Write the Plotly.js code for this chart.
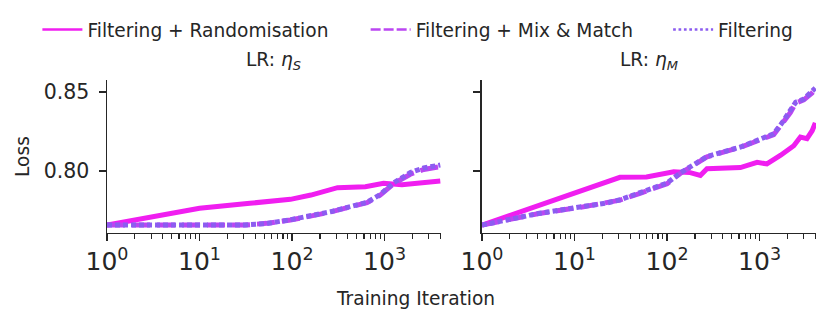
<!DOCTYPE html>
<html>
<head>
<meta charset="utf-8">
<script src="https://cdn.plot.ly/plotly-3.0.1.min.js"></script>
<style>
  body { margin: 0; padding: 0; background: #fff; }
  #chart { width: 831px; height: 325px; }
</style>
</head>
<body>
<div id="chart"></div>
<script>
// LR: eta_S panel
var sRandX = [1, 10, 35, 96, 160, 310, 620, 975, 1540, 2240, 2650, 4000];
var sRandY = [0.7658, 0.7764, 0.7796, 0.7821, 0.7848, 0.7895, 0.7901, 0.7922, 0.7913, 0.7922, 0.7932, 0.7937];
var sMixX = [1, 2, 5, 10, 31, 53, 96, 258, 646, 900, 1250, 1900, 2650, 4000];
var sMixY = [0.7658, 0.7657, 0.7657, 0.7657, 0.7658, 0.7669, 0.7690, 0.7740, 0.7800, 0.7848, 0.7920, 0.7980, 0.8010, 0.8028];
var sFiltX = [1, 2, 5, 10, 31, 53, 96, 258, 646, 900, 1250, 1900, 2650, 4000];
var sFiltY = [0.7658, 0.7657, 0.7657, 0.7658, 0.7659, 0.7668, 0.7692, 0.7742, 0.7802, 0.7852, 0.7925, 0.7990, 0.8020, 0.8038];

// LR: eta_M panel
var mRandX = [1, 31, 60, 118, 178, 229, 270, 620, 940, 1200, 1690, 2340, 2760, 3250, 3700, 4000];
var mRandY = [0.7658, 0.7960, 0.7962, 0.7996, 0.7990, 0.7972, 0.8015, 0.8022, 0.8055, 0.8045, 0.8100, 0.8160, 0.8215, 0.8205, 0.8255, 0.8305];
var mMixX = [1, 2, 4, 12.5, 22, 31, 51, 100, 139, 210, 270, 620, 940, 1420, 1750, 2150, 2450, 3000, 3700, 4000];
var mMixY = [0.7658, 0.7693, 0.7730, 0.7774, 0.7796, 0.7816, 0.7859, 0.7920, 0.7985, 0.8049, 0.8090, 0.8150, 0.8186, 0.8230, 0.8300, 0.8370, 0.8430, 0.8450, 0.8495, 0.8515];
var mFiltX = [1, 2, 4, 12.5, 22, 31, 51, 100, 139, 210, 270, 620, 940, 1420, 1750, 2150, 2450, 3000, 3700, 4000];
var mFiltY = [0.7658, 0.7692, 0.7731, 0.7776, 0.7797, 0.7818, 0.7861, 0.7924, 0.7988, 0.8052, 0.8092, 0.8152, 0.8190, 0.8236, 0.8305, 0.8378, 0.8435, 0.8455, 0.8500, 0.8525];

var names = ["Filtering + Randomisation", "Filtering + Mix & Match", "Filtering"];
var colors = ["#f01ef0", "#bb46f2", "#8c5cf0"];
var dashes = ["solid", "18px,7px", "5px,3px"];
var legendDashes = ["solid", "10px,3px", "2.7px,2.7px"];

function makeTrace(x, y, i, xa, ya){
	return {
		x: x, y: y, type: "scatter", mode: "lines",
		name: names[i],
		line: {color: colors[i], width: 5, dash: dashes[i]},
		xaxis: xa, yaxis: ya,
		showlegend: false
	};
}

// thinner entries only for the legend
function legendTrace(i, legend){
	return {
		x: [null], y: [null], type: "scatter", mode: "lines",
		name: names[i],
		line: {color: colors[i], width: 2.7, dash: legendDashes[i]},
		showlegend: true, legend: legend
	};
}

var data = [
	makeTrace(sRandX, sRandY, 0, "x", "y"),
	makeTrace(sMixX, sMixY, 1, "x", "y"),
	makeTrace(sFiltX, sFiltY, 2, "x", "y"),
	makeTrace(mRandX, mRandY, 0, "x2", "y2"),
	makeTrace(mMixX, mMixY, 1, "x2", "y2"),
	makeTrace(mFiltX, mFiltY, 2, "x2", "y2"),
	legendTrace(0, "legend"),
	legendTrace(1, "legend2"),
	legendTrace(2, "legend3")
];

var ink = "#262626";
var fontFam = "DejaVu Sans, sans-serif";

function xAxis(domain, anchor){
	return {
		type: "log", domain: domain, anchor: anchor,
		range: [0, 3.61],
		tickmode: "linear", tick0: 0, dtick: 1,
		exponentformat: "power",
		labelalias: {"1": "10<sup>0</sup>", "10": "10<sup>1</sup>"},
		ticks: "outside", ticklen: 7, tickwidth: 1.5, tickcolor: ink,
		minor: {dtick: "D1", ticks: "outside", ticklen: 5, tickwidth: 1.2, tickcolor: ink, showgrid: false},
		showline: true, linecolor: ink, linewidth: 1.5,
		showgrid: false, zeroline: false,
		tickfont: {size: 20, color: ink, family: fontFam},
		ticklabelstandoff: 0
	};
}

function yAxis(domain, anchor, labels){
	return {
		domain: domain, anchor: anchor,
		range: [0.7608, 0.8576],
		tickvals: [0.80, 0.85], ticktext: ["0.80", "0.85"],
		showticklabels: labels,
		ticks: "outside", ticklen: 7, tickwidth: 1.5, tickcolor: ink,
		showline: true, linecolor: ink, linewidth: 1.5,
		showgrid: false, zeroline: false,
		tickfont: {size: 20.5, color: ink, family: fontFam},
		ticklabelstandoff: 5
	};
}

function legendAt(x){
	return {
		orientation: "h", x: x, xanchor: "left", y: 0.908, yanchor: "middle",
		font: {size: 18.6, color: ink, family: fontFam},
		itemwidth: 40,
		bgcolor: "rgba(0,0,0,0)", borderwidth: 0
	};
}

var yl = yAxis([0.2831, 0.7538], "x", true);
yl.title = {text: "Loss", font: {size: 18.6, color: ink, family: fontFam}, standoff: 9};
var yr = yAxis([0.2831, 0.7538], "x2", false);
yr.matches = "y";

var layout = {
	width: 831, height: 325,
	margin: {l: 0, r: 0, t: 0, b: 0},
	paper_bgcolor: "#ffffff", plot_bgcolor: "#ffffff",
	font: {family: fontFam, color: ink, size: 18.6},
	xaxis: xAxis([0.1288, 0.5307], "y"),
	yaxis: yl,
	xaxis2: xAxis([0.580, 0.982], "y2"),
	yaxis2: yr,
	legend: legendAt(0.045),
	legend2: legendAt(0.440),
	legend3: legendAt(0.804),
	annotations: [
		{text: "LR: <i>η</i><sub><i>S</i></sub>", xref: "paper", yref: "paper", x: 0.3297, y: 0.812,
		 xanchor: "center", yanchor: "middle", showarrow: false, font: {size: 18.6, color: ink}},
		{text: "LR: <i>η</i><sub><i>M</i></sub>", xref: "paper", yref: "paper", x: 0.781, y: 0.812,
		 xanchor: "center", yanchor: "middle", showarrow: false, font: {size: 18.6, color: ink}},
		{text: "Training Iteration", xref: "paper", yref: "paper", x: 0.4994, y: 0.083,
		 xanchor: "center", yanchor: "middle", showarrow: false, font: {size: 18.6, color: ink}}
	]
};

var config = {responsive: false, displayModeBar: false, staticPlot: true};

Plotly.newPlot("chart", data, layout, config);
</script>
</body>
</html>
